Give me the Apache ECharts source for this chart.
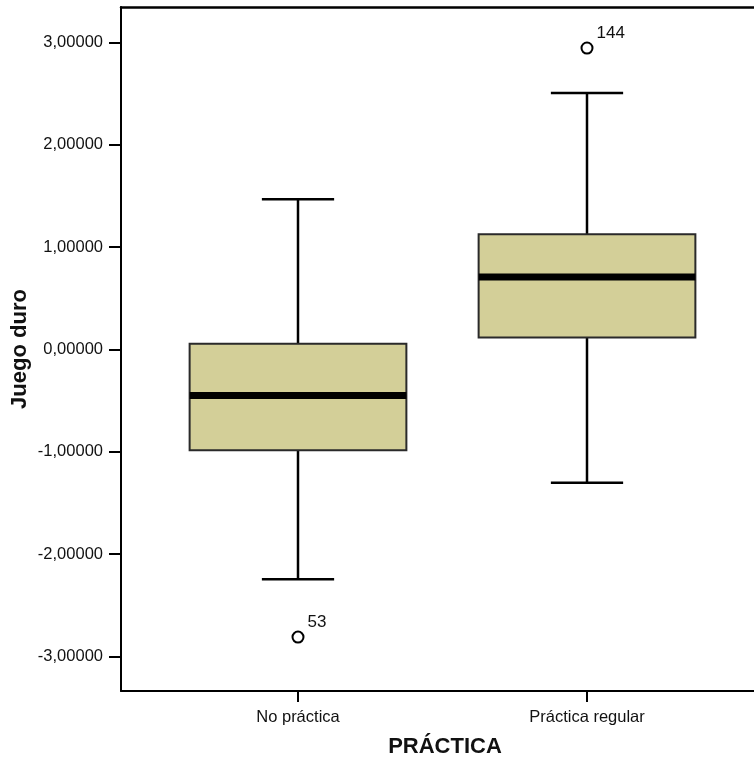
<!DOCTYPE html>
<html>
<head>
<meta charset="utf-8">
<script src="https://cdn.jsdelivr.net/npm/echarts@6/dist/echarts.min.js"></script>
<style>
html,body{margin:0;padding:0;background:#fff;}
#main{width:754px;height:758px;}
</style>
</head>
<body>
<div id="main"></div>
<script>
const categories = ['No práctica', 'Práctica regular'];
const lowerWhisker = [-2.248, -1.303];
const q1 = [-0.987, 0.117];
const median = [-0.45, 0.707];
const q3 = [0.056, 1.124];
const upperWhisker = [1.466, 2.505];
const outlierCategory = [0, 1];
const outlierValues = [-2.812, 2.945];
const outlierLabels = ['53', '144'];
const yTicks = [-3, -2, -1, 0, 1, 2, 3];
const yMin = -3.339, yMax = 3.346;

const boxData = categories.map((c, i) => [i, lowerWhisker[i], q1[i], median[i], q3[i], upperWhisker[i]]);
const outlierData = outlierValues.map((v, i) => [outlierCategory[i], v]);

const FONT = '"Liberation Sans", Arial, sans-serif';
const chart = echarts.init(document.getElementById('main'), null, {renderer: 'canvas'});

function fmt(v) {
  return v.toFixed(5).replace('.', ',');
}

const option = {
  backgroundColor: '#fff',
  animation: false,
  grid: [
    {left: 121, right: 0, top: 7, bottom: 67, containLabel: false, outerBoundsMode: 'none'},
    {left: 153.5, right: 22.5, top: 7, bottom: 67, containLabel: false, outerBoundsMode: 'none'}
  ],
  xAxis: [
    {
      gridIndex: 0, type: 'value', min: 0, max: 1, position: 'bottom',
      axisLine: {show: true, onZero: false, lineStyle: {color: '#000', width: 2}},
      axisTick: {show: false}, axisLabel: {show: false}, splitLine: {show: false}
    },
    {
      gridIndex: 0, type: 'value', min: 0, max: 1, position: 'top',
      axisLine: {show: true, onZero: false, lineStyle: {color: '#000', width: 2.5}},
      axisTick: {show: false}, axisLabel: {show: false}, splitLine: {show: false}
    },
    {
      gridIndex: 1, type: 'category', data: categories, boundaryGap: true, position: 'bottom',
      axisLine: {show: true, onZero: false, lineStyle: {color: '#000', width: 2, opacity: 0}},
      axisTick: {show: true, alignWithLabel: true, length: 11, lineStyle: {color: '#000', width: 2}},
      axisLabel: {show: true, margin: 18, fontSize: 16.5, color: '#111', fontFamily: FONT},
      splitLine: {show: false},
      name: 'PRÁCTICA', nameLocation: 'middle', nameGap: 45, nameMoveOverlap: false,
      nameTextStyle: {fontSize: 22, fontWeight: 'bold', color: '#111', fontFamily: FONT, padding: [0, 0, 0, 5]}
    }
  ],
  yAxis: [
    {
      gridIndex: 0, type: 'value', min: yMin, max: yMax,
      axisLine: {show: true, onZero: false, lineStyle: {color: '#000', width: 2}},
      axisTick: {show: true, customValues: yTicks, length: 12, lineStyle: {color: '#000', width: 2}},
      axisLabel: {show: true, customValues: yTicks, margin: 18, fontSize: 16.5, color: '#111', fontFamily: FONT, formatter: fmt},
      splitLine: {show: false},
      name: 'Juego duro', nameLocation: 'middle', nameGap: 90, nameMoveOverlap: false,
      nameTextStyle: {fontSize: 22, fontWeight: 'bold', color: '#111', fontFamily: FONT}
    },
    {
      gridIndex: 1, type: 'value', min: yMin, max: yMax, show: false,
      axisLine: {onZero: false},
      splitLine: {show: false}
    }
  ],
  series: [
    {
      type: 'custom',
      xAxisIndex: 2, yAxisIndex: 1,
      data: boxData,
      encode: {x: 0, y: [1, 2, 3, 4, 5]},
      renderItem: function (params, api) {
        const x = api.value(0);
        const p = v => api.coord([x, v]);
        const band = api.size([1, 0])[0];
        const bw = band * 0.75, cw = band * 0.25;
        const lo = p(api.value(1)), a = p(api.value(2)), m = p(api.value(3)), b = p(api.value(4)), hi = p(api.value(5));
        const cx = lo[0];
        const lineStyle = {stroke: '#000', lineWidth: 2.5};
        return {
          type: 'group',
          children: [
            {type: 'line', shape: {x1: cx, y1: b[1], x2: cx, y2: hi[1]}, style: lineStyle},
            {type: 'line', shape: {x1: cx, y1: a[1], x2: cx, y2: lo[1]}, style: lineStyle},
            {type: 'line', shape: {x1: cx - cw / 2, y1: hi[1], x2: cx + cw / 2, y2: hi[1]}, style: lineStyle},
            {type: 'line', shape: {x1: cx - cw / 2, y1: lo[1], x2: cx + cw / 2, y2: lo[1]}, style: lineStyle},
            {type: 'rect', shape: {x: cx - bw / 2, y: b[1], width: bw, height: a[1] - b[1]},
              style: {fill: '#d3cf98', stroke: '#2a2a2a', lineWidth: 2}},
            {type: 'line', shape: {x1: cx - bw / 2, y1: m[1], x2: cx + bw / 2, y2: m[1]},
              style: {stroke: '#000', lineWidth: 7}}
          ]
        };
      }
    },
    {
      type: 'scatter',
      xAxisIndex: 2, yAxisIndex: 1,
      data: outlierData,
      symbol: 'circle', symbolSize: 11,
      itemStyle: {color: '#fff', borderColor: '#000', borderWidth: 2, opacity: 1},
      label: {
        show: true, position: 'right', offset: [-2, -15],
        formatter: p => outlierLabels[p.dataIndex],
        fontSize: 17, color: '#111', fontFamily: FONT
      },
      z: 5
    }
  ]
};
chart.setOption(option);
</script>
</body>
</html>
